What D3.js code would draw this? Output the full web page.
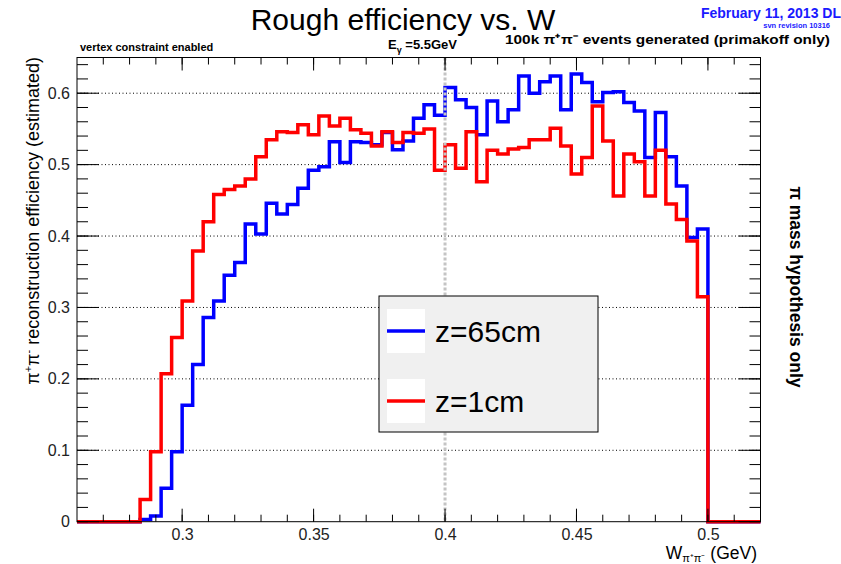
<!DOCTYPE html>
<html><head><meta charset="utf-8">
<script src="https://cdn.jsdelivr.net/npm/d3@7"></script>
<style>
html,body{margin:0;padding:0;background:#fff;}
svg{display:block;font-family:"Liberation Sans",Arial,Helvetica,sans-serif;}
</style></head>
<body><svg id="c" width="841" height="564"></svg>
<script>
// ---- data ----
const binStart = 0.26;
const binWidth = 0.004;
const z65 = [0,0,0,0,0,0,0.003,0.008,0.047,0.098,0.163,0.220,0.286,0.309,0.345,0.363,0.417,0.403,0.446,0.431,
  0.444,0.467,0.492,0.497,0.532,0.503,0.532,0.531,0.528,0.545,0.521,0.533,0.565,0.584,0.569,0.608,0.591,0.580,0.542,0.589,
  0.560,0.577,0.624,0.600,0.616,0.624,0.577,0.627,0.615,0.588,0.601,0.602,0.587,0.575,0.510,0.573,0.511,0.470,0.398,0.410,
  0,0,0,0,0];
const z1 = [0,0,0,0,0,0,0.031,0.098,0.207,0.258,0.309,0.379,0.420,0.458,0.465,0.470,0.480,0.511,0.535,0.546,
  0.545,0.556,0.542,0.568,0.554,0.565,0.549,0.544,0.526,0.546,0.531,0.545,0.544,0.550,0.492,0.528,0.495,0.546,0.476,0.520,
  0.515,0.522,0.524,0.535,0.535,0.551,0.526,0.487,0.510,0.582,0.533,0.456,0.515,0.504,0.456,0.520,0.445,0.423,0.393,0.315,
  0,0,0,0,0];
const xTickLabels = [0.3,0.35,0.4,0.45,0.5];
const yTickLabels = [0,0.1,0.2,0.3,0.4,0.5,0.6];
const seriesNames = ["z=65cm","z=1cm"];
const seriesColors = ["#0000ff","#ff0000"];

// ---- layout ----
const L=77, R=760.5, T=57.5, B=521.7;
const svg = d3.select("#c");
const x = d3.scaleLinear().domain([0.26,0.52]).range([L,R]);
const y = d3.scaleLinear().domain([0,0.65]).range([B,T]);

// gridlines
svg.append("g").selectAll("line").data(yTickLabels.filter(v=>v>0)).join("line")
  .attr("x1",L).attr("x2",R).attr("y1",d=>y(d)).attr("y2",d=>y(d))
  .attr("stroke","#000").attr("stroke-width",1).attr("stroke-dasharray","1,2.5");

// histograms
function stepPoints(vals){
  const pts = vals.map((v,i)=>[binStart+i*binWidth, v]);
  pts.push([binStart+vals.length*binWidth, vals[vals.length-1]]);
  return pts;
}
const line = d3.line().x(d=>x(d[0])).y(d=>y(d[1])).curve(d3.curveStepAfter);
[z65,z1].forEach((vals,i)=>{
  svg.append("path").attr("d",line(stepPoints(vals)))
    .attr("fill","none").attr("stroke",seriesColors[i]).attr("stroke-width",3.5)
    .attr("stroke-linejoin","miter");
});

// vertical dashed marker at 0.4
svg.append("line").attr("x1",x(0.4)).attr("x2",x(0.4)).attr("y1",T).attr("y2",B)
  .attr("stroke","#c4c4c4").attr("stroke-width",3).attr("stroke-dasharray","3,2");

// axes
const minorX = d3.range(27,52).map(i=>i/100);
const minorY = d3.range(0,33).map(i=>i/50);
function ticks(g, orient, vals, len){
  g.selectAll(null).data(vals).join("line").each(function(d){
    const s=d3.select(this);
    if(orient==="b"){s.attr("x1",x(d)).attr("x2",x(d)).attr("y1",B).attr("y2",B-len);}
    if(orient==="t"){s.attr("x1",x(d)).attr("x2",x(d)).attr("y1",T).attr("y2",T+len);}
    if(orient==="l"){s.attr("x1",L).attr("x2",L+len).attr("y1",y(d)).attr("y2",y(d));}
    if(orient==="r"){s.attr("x1",R).attr("x2",R-len).attr("y1",y(d)).attr("y2",y(d));}
  }).attr("stroke","#000").attr("stroke-width",1);
}
const tg = svg.append("g");
ticks(tg,"b",minorX,7); ticks(tg,"t",minorX,7);
ticks(tg,"b",xTickLabels,13); ticks(tg,"t",xTickLabels,13);
ticks(tg,"l",minorY,11); ticks(tg,"r",minorY,11);
ticks(tg,"l",yTickLabels,22); ticks(tg,"r",yTickLabels,22);

// axis labels via d3 axes (ticks hidden)
const xAxis = d3.axisBottom(x).tickValues(xTickLabels).tickSize(0).tickPadding(7).tickFormat(d3.format("~g"));
svg.append("g").attr("transform",`translate(0,${B})`).call(xAxis)
  .call(g=>g.select(".domain").remove())
  .selectAll("text").attr("font-size",16).attr("fill","#222").attr("font-family","Liberation Sans, Arial, sans-serif");
const yAxis = d3.axisLeft(y).tickValues(yTickLabels).tickSize(0).tickPadding(7).tickFormat(d3.format("~g"));
svg.append("g").attr("transform",`translate(${L},0)`).call(yAxis)
  .call(g=>g.select(".domain").remove())
  .selectAll("text").attr("font-size",16).attr("fill","#222").attr("font-family","Liberation Sans, Arial, sans-serif");

// frame
svg.append("rect").attr("x",L).attr("y",T).attr("width",R-L).attr("height",B-T)
  .attr("fill","none").attr("stroke","#000").attr("stroke-width",1);

// titles
svg.append("text").attr("x",403).attr("y",30).attr("text-anchor","middle")
  .attr("font-size",30).text("Rough efficiency vs. W");
svg.append("text").attr("x",841).attr("y",18).attr("text-anchor","end")
  .attr("font-size",14).attr("font-weight","bold").attr("fill","#1a1aff").text("February 11, 2013 DL");
svg.append("text").attr("x",830).attr("y",28).attr("text-anchor","end")
  .attr("font-size",7.5).attr("font-weight","bold").attr("fill","#1a1aff").text("svn revision 10316");
svg.append("text").attr("x",505).attr("y",44).attr("textLength",325).attr("lengthAdjust","spacingAndGlyphs")
  .attr("font-size",13.5).attr("font-weight","bold").text("100k π⁺π⁻ events generated (primakoff only)");
svg.append("text").attr("x",80).attr("y",51).attr("font-size",11).attr("font-weight","bold")
  .text("vertex constraint enabled");
const eg = svg.append("text").attr("x",388).attr("y",49).attr("font-size",13).attr("font-weight","bold");
eg.append("tspan").text("E");
eg.append("tspan").attr("font-size",9).attr("dy",4).text("γ");
eg.append("tspan").attr("dy",-4).text(" =5.5GeV");

// y title
const yt = svg.append("text").attr("transform","translate(39,57) rotate(-90)")
  .attr("text-anchor","end").attr("font-size",18);
yt.append("tspan").text("π");
yt.append("tspan").attr("font-size",11).attr("dy",-7).text("+");
yt.append("tspan").attr("font-size",18).attr("dy",7).text("π");
yt.append("tspan").attr("font-size",11).attr("dy",-7).text("-");
yt.append("tspan").attr("font-size",18).attr("dy",7).text(" reconstruction efficiency (estimated)");

// x title
const xt = svg.append("text").attr("x",757).attr("y",559).attr("text-anchor","end").attr("font-size",17.5);
xt.append("tspan").text("W");
xt.append("tspan").attr("font-size",11).attr("dy",3).text("π⁺π⁻");
xt.append("tspan").attr("dy",-3).text(" (GeV)");

// right side text
svg.append("text").attr("transform","translate(790,287) rotate(90)").attr("text-anchor","middle")
  .attr("font-size",17.5).attr("font-weight","bold").text("π mass hypothesis only");

// legend
const lg = svg.append("g");
lg.append("rect").attr("x",379).attr("y",296).attr("width",219).attr("height",136)
  .attr("fill","#f0f0f0").attr("stroke","#000").attr("stroke-width",1);
const legY = [331,401];
seriesNames.forEach((n,i)=>{
  lg.append("rect").attr("x",387).attr("y",legY[i]-22).attr("width",38).attr("height",44).attr("fill","#fff");
  lg.append("line").attr("x1",387).attr("x2",425).attr("y1",legY[i]).attr("y2",legY[i])
    .attr("stroke",seriesColors[i]).attr("stroke-width",3.5);
  lg.append("text").attr("x",435).attr("y",legY[i]+11).attr("font-size",30).text(n);
});
</script></body></html>
